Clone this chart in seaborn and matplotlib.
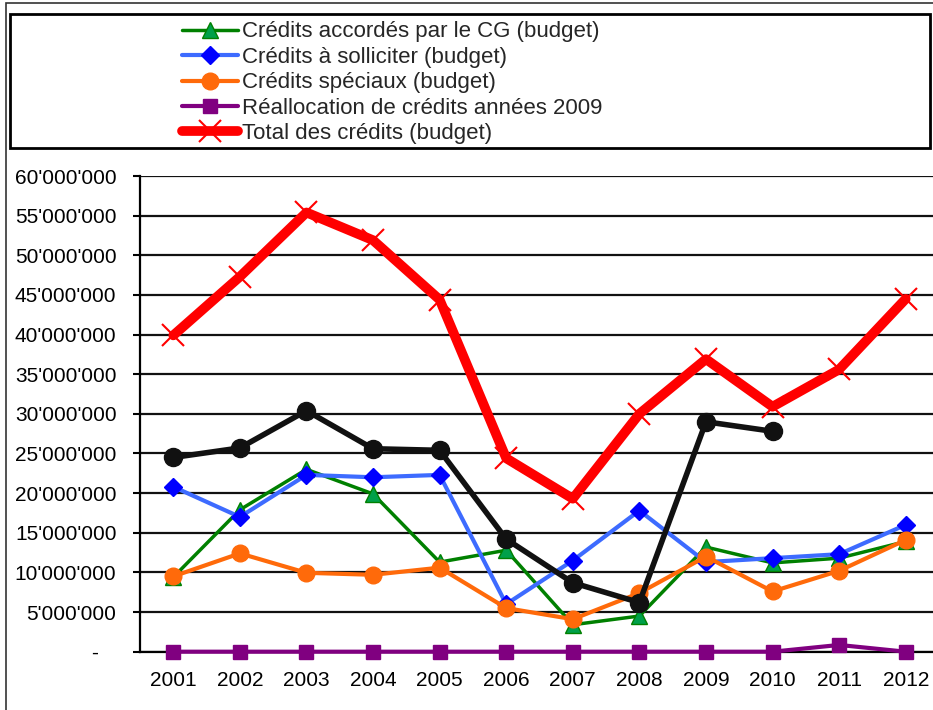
import numpy as np
import pandas as pd
import matplotlib
matplotlib.use("Agg")
import matplotlib.pyplot as plt
import matplotlib.ticker as mticker
from matplotlib.patches import Rectangle
from matplotlib.lines import Line2D
import seaborn as sns

sns.set_style("white")
plt.rcParams['font.family'] = ['Liberation Sans', 'DejaVu Sans']

# données (en millions)
annees = ['2001', '2002', '2003', '2004', '2005', '2006', '2007', '2008', '2009', '2010', '2011', '2012']
credits_cg = [9.4, 17.9, 23.0, 19.9, 11.3, 12.8, 3.4, 4.5, 13.2, 11.2, 11.8, 13.9]
credits_solliciter = [20.8, 17.0, 22.3, 22.0, 22.3, 6.0, 11.5, 17.8, 11.3, 11.8, 12.3, 16.0]
credits_speciaux = [9.5, 12.4, 9.95, 9.7, 10.6, 5.5, 4.1, 7.4, 12.0, 7.6, 10.2, 14.1]
reallocation_2009 = [0, 0, 0, 0, 0, 0, 0, 0, 0, 0, 0.85, 0]
total_credits = [39.9, 47.3, 55.4, 51.9, 44.4, 24.4, 19.3, 30.0, 36.9, 30.9, 35.6, 44.5]
serie_noire = [24.5, 25.7, 30.4, 25.6, 25.4, 14.2, 8.7, 6.2, 29.0, 27.8, np.nan, np.nan]

labels = ['Crédits accordés par le CG (budget)',
          'Crédits à solliciter (budget)',
          'Crédits spéciaux (budget)',
          'Réallocation de crédits années 2009',
          'Total des crédits (budget)']

df = pd.DataFrame({'annee': annees,
                   'cg': credits_cg,
                   'solliciter': credits_solliciter,
                   'speciaux': credits_speciaux,
                   'realloc': reallocation_2009,
                   'total': total_credits,
                   'noire': serie_noire})
for c in ['cg', 'solliciter', 'speciaux', 'realloc', 'total', 'noire']:
    df[c] = df[c] * 1e6

W, H = 933, 710
fig = plt.figure(figsize=(W / 100, H / 100), dpi=100)
ax = fig.add_axes([140 / W, (H - 651.7) / H, 799 / W, (651.7 - 176) / H])

styles = [
    ('cg', dict(color='#008000', lw=2.5, marker='^', ms=11, mfc='#00A04A', mec='#008000', mew=1)),
    ('solliciter', dict(color='#3D6BFF', lw=3, marker='D', ms=9, mfc='#0000FF', mec='#0000FF', mew=1)),
    ('speciaux', dict(color='#FF6A0A', lw=3, marker='o', ms=12, mfc='#FF6A0A', mec='#FF6A0A', mew=1)),
    ('realloc', dict(color='#800080', lw=3, marker='s', ms=10, mfc='#800080', mec='#800080', mew=1)),
    ('total', dict(color='#FF0000', lw=7, marker='x', ms=16, mec='#FF0000', mew=1.5)),
    ('noire', dict(color='#111111', lw=4, marker='o', ms=13, mfc='#111111', mec='#111111', mew=1)),
]

handles = []
for col, st in styles:
    sns.lineplot(data=df, x='annee', y=col, ax=ax, sort=False, zorder=4, clip_on=False, **st)
    if col != 'noire':
        handles.append(Line2D([], [], **st))

ax.set_xlim(-0.5, len(annees) - 0.5)
ax.set_ylim(0, 60e6)
ax.yaxis.set_major_locator(mticker.MultipleLocator(5e6))
ax.yaxis.set_major_formatter(mticker.FuncFormatter(
    lambda v, p: '-   ' if v == 0 else f"{int(round(v)):,}".replace(',', "'")))
ax.set_xlabel('')
ax.set_ylabel('')

ax.grid(axis='y', color='#111111', lw=1.6)
ax.grid(axis='x', visible=False)
ax.set_axisbelow(True)
for s in ['top', 'right']:
    ax.spines[s].set_visible(False)
for s in ['left', 'bottom']:
    ax.spines[s].set_color('black')
    ax.spines[s].set_linewidth(1.6)
    ax.spines[s].set_zorder(3)

ax.set_xticks(np.arange(-0.5, len(annees), 1.0), minor=True)
ax.tick_params(axis='x', which='major', length=0, pad=14, labelsize=15, colors='black')
ax.tick_params(axis='x', which='minor', length=5, width=1.5, direction='out', color='black')
ax.tick_params(axis='y', which='major', length=5, width=1.5, direction='out', pad=12,
               labelsize=15, colors='black', left=True)

# cadres
fig.patches.append(Rectangle((6 / W, -0.1), 1.2, (H - 3) / H + 0.1, transform=fig.transFigure,
                             fill=False, ec='#333333', lw=1.2))
fig.patches.append(Rectangle((10 / W, (H - 148) / H), 920 / W, 134 / H, transform=fig.transFigure,
                             fill=False, ec='black', lw=2))

fig.legend(handles, labels, loc='upper left', bbox_to_anchor=(178 / W, (H - 17) / H),
           frameon=False, fontsize=16, handlelength=2.5, handletextpad=0.2,
           labelspacing=0.2, borderaxespad=0, borderpad=0.2)

fig.savefig('out.png', dpi=100)
